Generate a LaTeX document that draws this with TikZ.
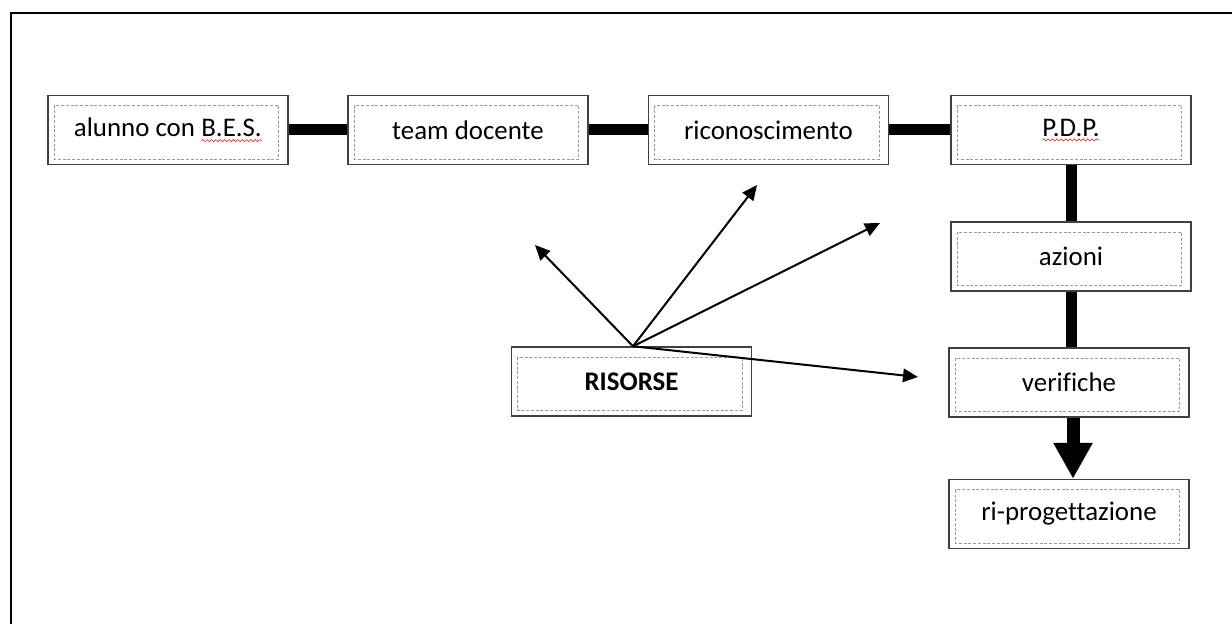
\documentclass[tikz,border=0pt]{standalone}
\usepackage{fontspec}
\setmainfont{Carlito}[Ligatures=NoCommon]
\usetikzlibrary{arrows.meta,calc,positioning,decorations.pathmorphing}
%rote Wellenlinie wie bei der Rechtschreibpruefung
\newcommand\rotwelle[1]{\tikz[baseline=(w.base)]{\node[inner sep=0pt,outer sep=0pt,minimum width=0pt,minimum height=0pt,draw=none,fill=none] (w) {#1};
  \draw[red,line width=0.3pt,decorate,decoration={snake,amplitude=0.6pt,segment length=2.5pt}] ([yshift=-2.2pt]w.base west) -- ([yshift=-2.2pt]w.base east);}}

\begin{document}
\begin{tikzpicture}[x=0.02cm,y=-0.02cm,
  kasten/.style={draw=black!75,line width=0.03cm,fill=white,minimum width=4.8cm,minimum height=1.38cm,inner sep=0pt,font=\fontsize{15.3}{18}\selectfont},
  innen/.style={draw=black!40,line width=0.02cm,dash pattern=on 0.06cm off 0.035cm},
  balken/.style={line width=0.22cm},
  pfeil/.style={line width=0.04cm,-{Triangle[length=0.3cm,width=0.27cm]}},
  dickpfeil/.style={line width=0.26cm,-{Triangle[length=0.72cm,width=0.74cm]}}]
%Alles in Pixeln, y zeigt nach unten
\useasboundingbox (0,0) rectangle (1232,624);
\clip (0,0) rectangle (1232,624);
\draw[line width=0.035cm] (11,13) rectangle (1300,700);
%Kaesten
\node[kasten] (alunno) at (168,130) {alunno con \rotwelle{B.E.S.}};
\node[kasten] (team) at (468,130) {team docente};
\node[kasten] (ricon) at (768.5,130) {riconoscimento};
\node[kasten] (pdp) at (1071,130) {\rotwelle{P.D.P.}};
\node[kasten] (azioni) at (1071,256.5) {azioni};
\node[kasten] (verif) at (1069,382.5) {verifiche};
\node[kasten] (riprog) at (1069,514) {ri-progettazione};
\node[kasten] (risorse) at (631.5,381.5) {\textbf{RISORSE}};
\foreach \n in {alunno,team,ricon,pdp,azioni,verif,riprog,risorse}{
\draw[innen] ($(\n.north west)+(7,11)$) rectangle ($(\n.south east)+(-10,-6)$);
}
%Balken
\draw[balken] (alunno) -- (team);
\draw[balken] (team) -- (ricon);
\draw[balken] (ricon) -- (pdp);
\draw[balken] (pdp) -- (azioni);
\draw[balken] (azioni.south) -- (azioni.south |- verif.north);
\draw[dickpfeil] (verif.south -| 1073,0) -- (riprog.north -| 1073,0);
%Pfeile von RISORSE
\coordinate (z1) at (535,245);
\coordinate (z2) at (757,185);
\coordinate (z3) at (880,223);
\coordinate (z4) at (918,377);
\foreach \z in {z1,z2,z3,z4}{
\draw[pfeil] ([xshift=0.03cm]risorse.north) -- (\z);
}
\end{tikzpicture}
\end{document}
